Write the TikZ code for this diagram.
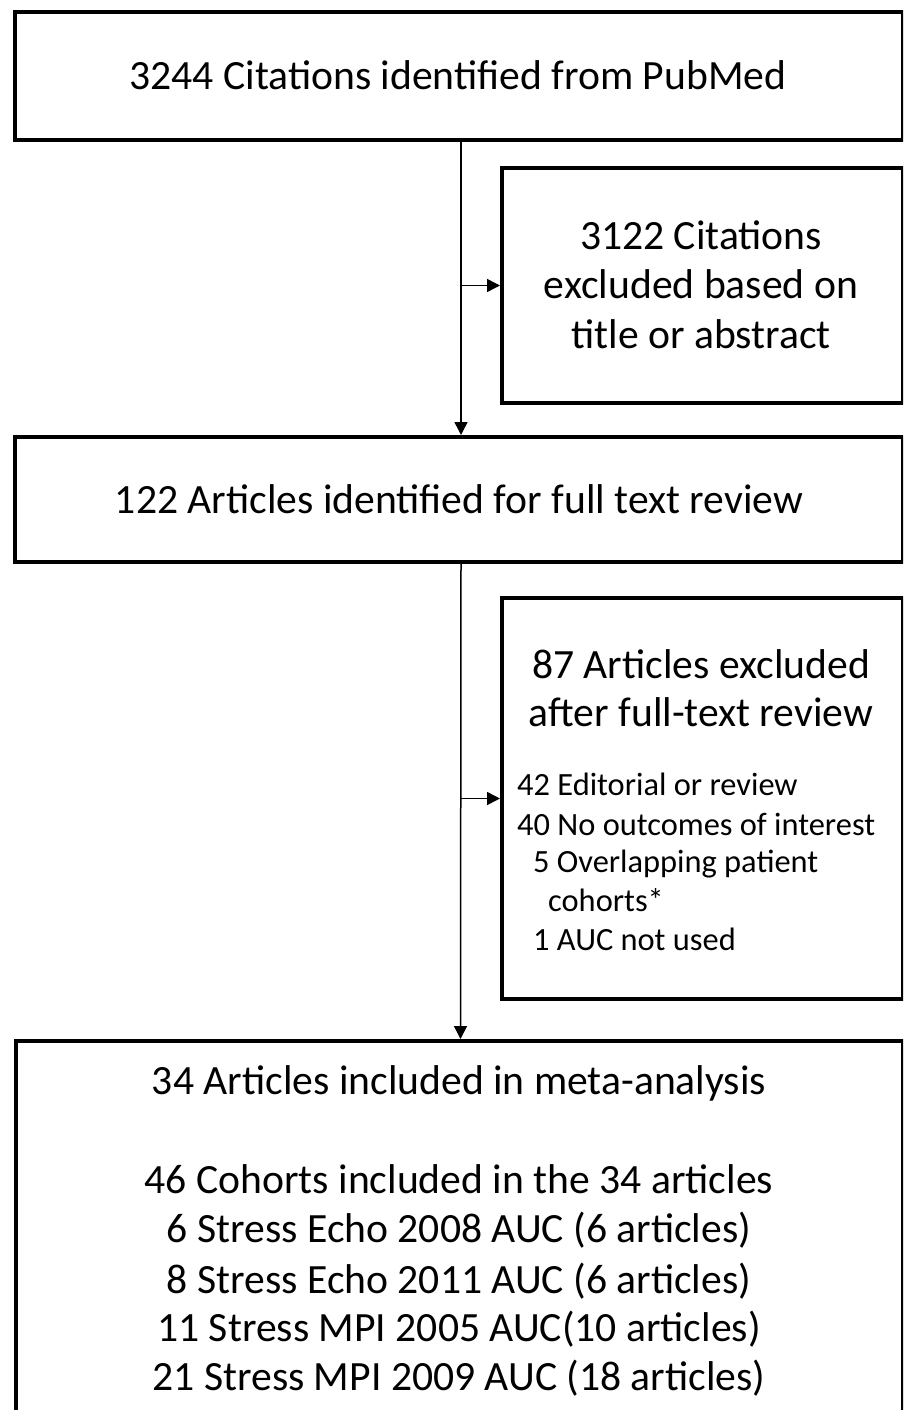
\documentclass[tikz,border=0pt]{standalone}
\usepackage{fontspec}
\setmainfont{Carlito}
\usetikzlibrary{arrows.meta}
\newlength\mywidthA
\newlength\mywidthB
\tikzset{
  box/.style={draw, line width=4pt, inner sep=0pt, anchor=north west},
  arr/.style={line width=1.5pt, -{Triangle[length=13pt,width=13pt]}},
  big/.style={font=\fontsize{\fsA pt}{\fsA pt}\selectfont, inner sep=0pt, anchor=base},
  small/.style={font=\fontsize{\fsB pt}{\fsB pt}\selectfont, inner sep=0pt, anchor=base west},
}
\begin{document}
\settowidth\mywidthA{\fontsize{40pt}{48pt}\selectfont 3244 Citations identified from PubMed}%
\settowidth\mywidthB{\fontsize{40pt}{48pt}\selectfont 40 No outcomes of interest}%
\pgfmathsetmacro\fsA{40/\mywidthA*657}%
\pgfmathsetmacro\fsB{40/\mywidthB*358}%
\begin{tikzpicture}[x=1pt, y=-1pt]
\clip (0,0) rectangle (903,1410);
\fill[white] (0,0) rectangle (903,1410);
% boxes
\node[box, minimum width=888pt, minimum height=128pt] (b1) at (13,10) {};
\node[box, minimum width=401pt, minimum height=235pt] (b2) at (500,166) {};
\node[box, minimum width=888pt, minimum height=125pt] (b3) at (13,435) {};
\node[box, minimum width=401pt, minimum height=401pt] (b4) at (500,596) {};
\node[box, minimum width=887pt, minimum height=430pt] (b5) at (14,1039) {};
% texts
\node[big] (t1) at (458,90) {3244 Citations identified from PubMed};
\node[big] (t2a) at (701,249) {3122 Citations};
\node[big] (t2b) at (701,298) {excluded based on};
\node[big] (t2c) at (701,348) {title or abstract};
\node[big] (t3) at (459,513) {122 Articles identified for full text review};
\node[big] (t4a) at (701,678) {87 Articles excluded};
\node[big] (t4b) at (701,726) {after full-text review};
\node[small] (t4c) at (517,795) {42 Editorial or review};
\node[small] (t4d) at (517,835) {40 No outcomes of interest};
\node[small] (t4e) at (533,872) {5 Overlapping patient};
\node[small] (t4f) at (548,911) {cohorts*};
\node[small] (t4g) at (533,950) {1 AUC not used};
\node[big] (t5a) at (459,1094) {34 Articles included in meta-analysis};
\node[big] (t5b) at (459,1193) {46 Cohorts included in the 34 articles};
\node[big] (t5c) at (459,1242) {6 Stress Echo 2008 AUC (6 articles)};
\node[big] (t5d) at (459,1293) {8 Stress Echo 2011 AUC (6 articles)};
\node[big] (t5e) at (459,1341) {11 Stress MPI 2005 AUC(10 articles)};
\node[big] (t5f) at (459,1390) {21 Stress MPI 2009 AUC (18 articles)};
% connectors
\draw[arr] ([xshift=2pt]b1.south) -- ([xshift=2pt]b3.north);
\draw[arr] ([xshift=2pt]b1.south |- b2.west) -- (b2.west);
\draw[arr] ([xshift=2pt]b3.south) -- ([xshift=1pt]b5.north);
\draw[arr] ([xshift=2pt]b3.south |- b4.west) -- (b4.west);
\end{tikzpicture}
\end{document}
